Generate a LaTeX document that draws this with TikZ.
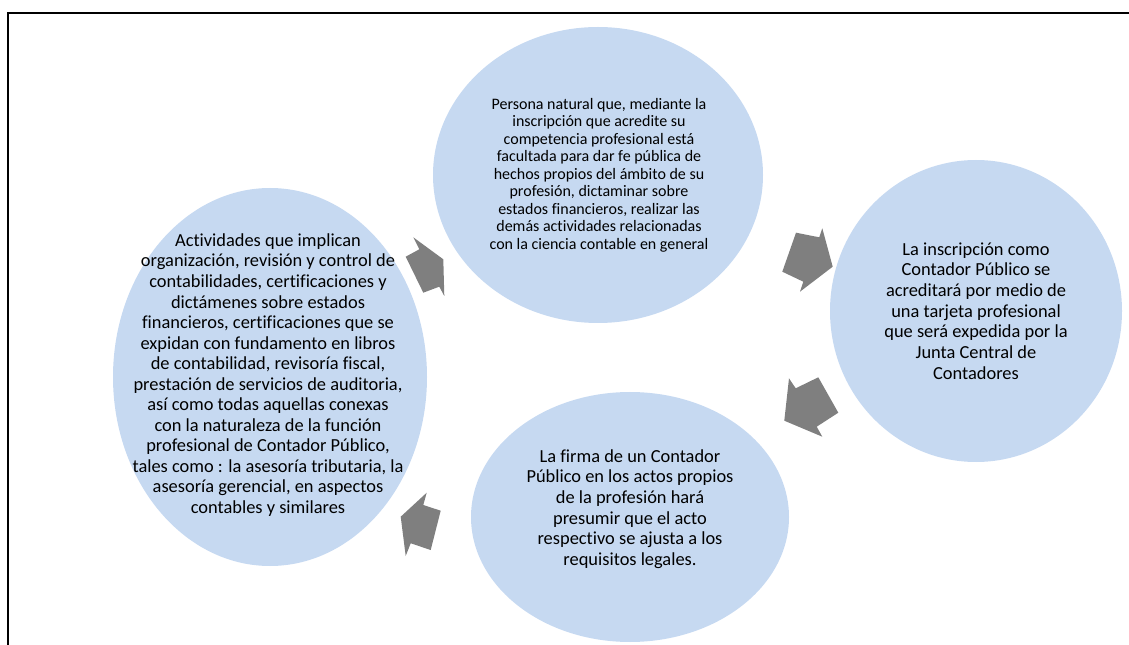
\documentclass[tikz,border=0pt]{standalone}
\usepackage{fontspec}
\setmainfont{Carlito}[Ligatures={NoCommon}]
\usetikzlibrary{shapes.geometric}
\definecolor{blobc}{HTML}{C6D9F1}
\definecolor{arrc}{HTML}{7F7F7F}
\begin{document}
\begin{tikzpicture}[x=0.75pt,y=-0.75pt,
  blob/.style={ellipse, fill=blobc, draw=none, inner sep=0pt},
  bigtxt/.style={font=\fontsize{13.8}{15.5}\selectfont, align=center, text=black, inner sep=0pt},
  smalltxt/.style={font=\fontsize{12}{13.1}\selectfont, align=center, text=black, inner sep=0pt},
  arrowshape/.style={fill=arrc, draw=none}]
\useasboundingbox (0,0) rectangle (1129,645);
\draw[line width=1.5pt] (7.8,645) -- (7.8,12.8) -- (1129,12.8);

% ellipses
\node[blob, minimum width=247.5pt, minimum height=222pt] (top) at (598,175) {};
\node[blob, minimum width=219pt, minimum height=226.5pt] (right) at (976,311) {};
\node[blob, minimum width=238.5pt, minimum height=187.5pt] (bottom) at (630,517) {};
\node[blob, minimum width=235.5pt, minimum height=283.5pt] (left) at (270,377) {};

% texts
\node[smalltxt] (toptext) at (599,175) {Persona natural que, mediante la\\inscripción que acredite su\\competencia profesional está\\facultada para dar fe pública de\\hechos propios del ámbito de su\\profesión, dictaminar sobre\\estados financieros, realizar las\\demás actividades relacionadas\\con la ciencia contable en general};
\node[bigtxt] (righttext) at (976,311) {La inscripción como\\Contador Público se\\acreditará por medio de\\una tarjeta profesional\\que será expedida por la\\Junta Central de\\Contadores};
\node[bigtxt] (bottomtext) at (630,509) {La firma de un Contador\\Público en los actos propios\\de la profesión hará\\presumir que el acto\\respectivo se ajusta a los\\requisitos legales.};
\node[bigtxt, font=\fontsize{13.8}{15.4}\selectfont] (lefttext) at (268,375) {Actividades que implican\\organización, revisión y control de\\contabilidades, certificaciones y\\dictámenes sobre estados\\financieros, certificaciones que se\\expidan con fundamento en libros\\de contabilidad, revisoría fiscal,\\prestación de servicios de auditoria,\\así como todas aquellas conexas\\con la naturaleza de la función\\profesional de Contador Público,\\tales como : la asesoría tributaria, la\\asesoría gerencial, en aspectos\\contables y similares};

% arrows
\fill[arrowshape] (796,232.7) -- (819.3,237.3) -- (822.3,228.3) -- (832.7,266.7) -- (800,291.7) -- (803.3,281.7) -- (782.3,271.7) -- cycle;
\fill[arrowshape] (818.3,377.3) -- (795.7,388.3) -- (789,378.3) -- (784.3,420.7) -- (822.3,436.7) -- (816.7,426.7) -- (838.3,412.7) -- cycle;
\fill[arrowshape] (426.7,492.7) -- (423.3,505) -- (440.7,510.7) -- (430.7,550) -- (410.7,543.3) -- (405.7,556) -- (400.7,516.7) -- cycle;
\fill[arrowshape] (413.3,237.3) -- (419.3,249.3) -- (405.7,256.7) -- (423.3,292.7) -- (439.3,286.7) -- (444.3,296) -- (443.3,259.3) -- cycle;
\end{tikzpicture}
\end{document}
